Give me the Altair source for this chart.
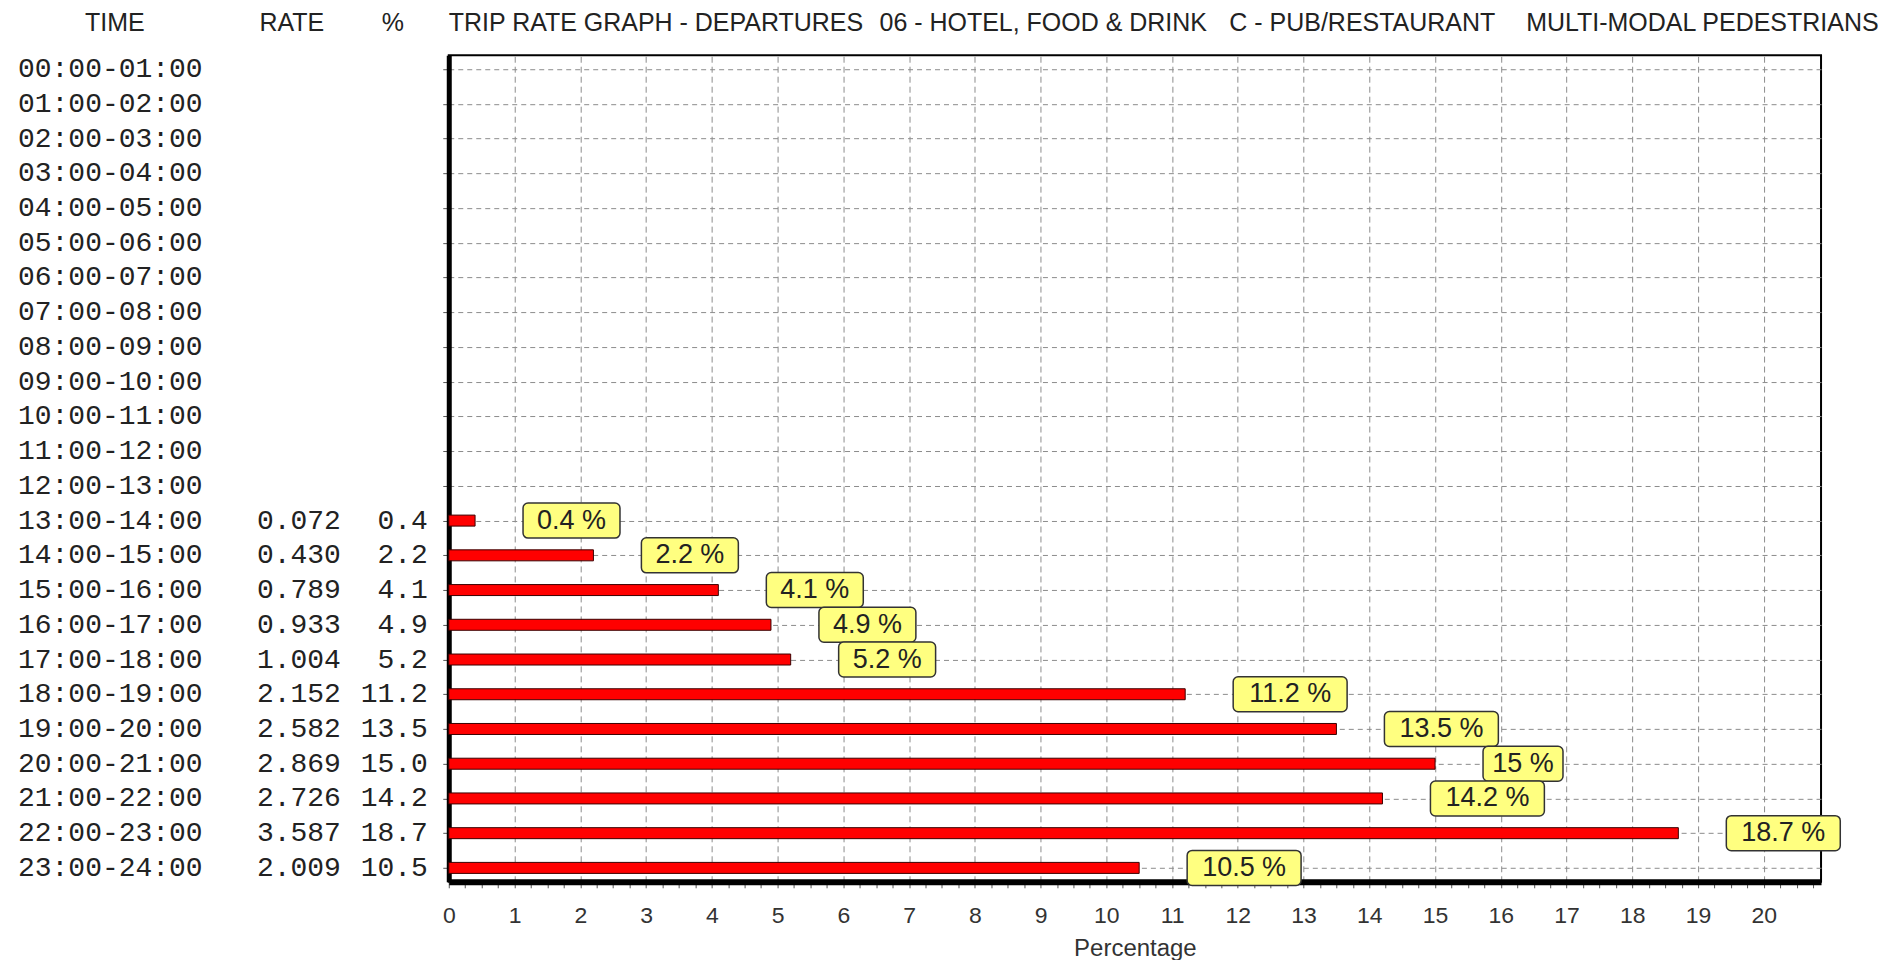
import altair as alt
import pandas as pd

# ---------------- data ----------------
times = [
    "00:00-01:00", "01:00-02:00", "02:00-03:00", "03:00-04:00",
    "04:00-05:00", "05:00-06:00", "06:00-07:00", "07:00-08:00",
    "08:00-09:00", "09:00-10:00", "10:00-11:00", "11:00-12:00",
    "12:00-13:00", "13:00-14:00", "14:00-15:00", "15:00-16:00",
    "16:00-17:00", "17:00-18:00", "18:00-19:00", "19:00-20:00",
    "20:00-21:00", "21:00-22:00", "22:00-23:00", "23:00-24:00",
]
active_times = [
    "13:00-14:00", "14:00-15:00", "15:00-16:00", "16:00-17:00",
    "17:00-18:00", "18:00-19:00", "19:00-20:00", "20:00-21:00",
    "21:00-22:00", "22:00-23:00", "23:00-24:00",
]
rates = [0.072, 0.430, 0.789, 0.933, 1.004, 2.152, 2.582, 2.869, 2.726, 3.587, 2.009]
percents = [0.4, 2.2, 4.1, 4.9, 5.2, 11.2, 13.5, 15.0, 14.2, 18.7, 10.5]

header_texts = ["TIME", "RATE", "%"]
title_parts = [
    "TRIP RATE GRAPH - DEPARTURES",
    "06 - HOTEL, FOOD & DRINK",
    "C - PUB/RESTAURANT",
    "MULTI-MODAL PEDESTRIANS",
]
x_title = "Percentage"

# ---------------- layout ----------------
W, H = 1373, 827
XMAX = 20.87
PX = W / XMAX
SANS = "Liberation Sans, Arial, sans-serif"
MONO = "Liberation Mono, DejaVu Sans Mono, monospace"

rows = pd.DataFrame({"time": times})
data = pd.DataFrame({
    "time": active_times,
    "rate": [f"{r:.3f}" for r in rates],
    "pct": percents,
    "pct_txt": [f"{p:.1f}" for p in percents],
    "label": [f"{p:g} %" for p in percents],
})

xscale = alt.Scale(domain=[0, XMAX], nice=False, zero=True)
xaxis = alt.Axis(
    values=[i / 4 for i in range(84)],
    labelExpr="datum.value % 1 === 0 ? format(datum.value, 'd') : ''",
    grid=True, gridColor="#8c8c8c", gridDash=[6, 4], gridWidth=1,
    gridOpacity={"condition": {"test": "datum.value % 1 === 0 && datum.value > 0", "value": 1}, "value": 0},
    domainColor="black", domainWidth=6,
    tickColor="#555", tickSize=6, tickWidth=1,
    labelFont=SANS, labelFontSize=23, labelColor="#333", labelPadding=17,
    labelFlush=False, labelOverlap=False,
    title=x_title, titleFont=SANS, titleFontSize=24, titleFontWeight="normal",
    titleColor="#333", titlePadding=9,
)
yaxis = alt.Axis(
    labels=False, title=None, grid=True, gridColor="#8c8c8c", gridDash=[5, 4],
    gridWidth=1, domainColor="black", domainWidth=5, tickColor="#555", tickSize=6,
)
yenc = alt.Y("time:N", sort=times, scale=alt.Scale(type="point", domain=times, padding=0.4), axis=yaxis)

base_rows = alt.Chart(rows).mark_point(opacity=0).encode(
    y=yenc, x=alt.X("zero:Q", scale=xscale, axis=xaxis)
).transform_calculate(zero="0")

bars = alt.Chart(data).mark_bar(color="#ff0000", stroke="#3a0000", strokeWidth=1, size=11).encode(
    x=alt.X("pct:Q", scale=xscale, axis=xaxis), y=yenc
)

labelled = alt.Chart(data).transform_calculate(
    box_x=f"datum.pct + {48 / PX}",
    box_x2=f"datum.pct + (60 + 17 * length(datum.label)) / {PX}",
).transform_calculate(
    text_x="(datum.box_x + datum.box_x2) / 2"
)

boxes = labelled.mark_bar(size=35, fill="#ffff80", stroke="#333", strokeWidth=1.5, cornerRadius=5).encode(
    x=alt.X("box_x:Q", scale=xscale, axis=xaxis), x2="box_x2:Q", y=yenc
)
box_text = labelled.mark_text(font=SANS, fontSize=27, color="#222", align="center", baseline="middle").encode(
    x=alt.X("text_x:Q", scale=xscale, axis=xaxis), y=yenc, text="label:N"
)

time_text = alt.Chart(rows).mark_text(font=MONO, fontSize=28, color="#222", align="left", baseline="middle").encode(
    x=alt.value(-431), y=yenc, text="time:N"
)
rate_text = alt.Chart(data).mark_text(font=MONO, fontSize=28, color="#222", align="right", baseline="middle").encode(
    x=alt.value(-108), y=yenc, text="rate:N"
)
pct_text = alt.Chart(data).mark_text(font=MONO, fontSize=28, color="#222", align="right", baseline="middle").encode(
    x=alt.value(-21), y=yenc, text="pct_txt:N"
)

one = alt.Data(values=[{}])
header_x = [-334, -157, -56]
headers = [
    alt.Chart(one).mark_text(font=SANS, fontSize=25, color="#222", align="center", baseline="middle").encode(
        x=alt.value(hx), y=alt.value(-32), text=alt.value(t)
    )
    for t, hx in zip(header_texts, header_x)
]
title_x = [0, 431, 781, 1078]
titles = [
    alt.Chart(one).mark_text(font=SANS, fontSize=25, color="#222", align="left", baseline="middle").encode(
        x=alt.value(tx), y=alt.value(-32), text=alt.value(t)
    )
    for t, tx in zip(title_parts, title_x)
]

chart = alt.layer(
    base_rows, bars, boxes, box_text, time_text, rate_text, pct_text, *headers, *titles
).properties(
    width=W, height=H,
    autosize=alt.AutoSizeParams(type="none"),
    padding={"left": 441, "top": 47, "right": 70, "bottom": 78},
    background="white",
).configure_view(stroke="black", strokeWidth=2)

chart.save("out.html", embed_options={"renderer": "svg", "actions": False})
